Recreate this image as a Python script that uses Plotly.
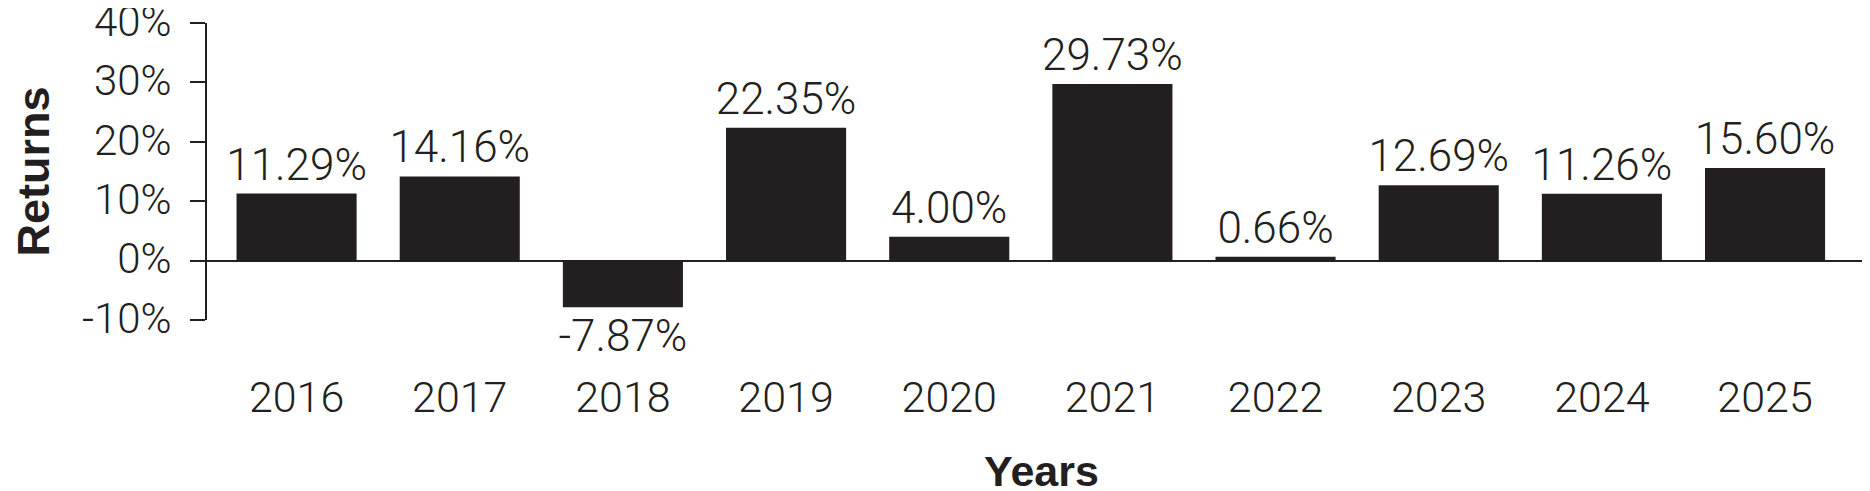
import plotly.graph_objects as go

# annual returns
years = ["2016", "2017", "2018", "2019", "2020", "2021", "2022", "2023", "2024", "2025"]
returns = [11.29, 14.16, -7.87, 22.35, 4.00, 29.73, 0.66, 12.69, 11.26, 15.60]
y_ticks = [-10, 0, 10, 20, 30, 40]
y_tick_text = ["-10%", "0%", "10%", "20%", "30%", "40%"]

ink = "#231f20"
light = "Roboto"
bold = "Liberation Sans"

fig = go.Figure(go.Bar(
    x=years,
    y=returns,
    width=0.736,
    marker=dict(color=ink, line=dict(width=0)),
    text=[f"{v:.2f}%" for v in returns],
    textposition="outside",
    constraintext="none",
    textfont=dict(family=light, size=44, color=ink, weight=300),
    cliponaxis=False,
))

fig.update_layout(
    width=1870,
    height=491,
    margin=dict(l=199, r=2, t=15, b=179),
    plot_bgcolor="white",
    paper_bgcolor="white",
    showlegend=False,
    font=dict(family=light, color=ink),
)

fig.update_yaxes(
    range=[-10, 40],
    tickvals=y_ticks,
    ticktext=y_tick_text,
    tickfont=dict(family=light, size=42, color=ink, weight=300),
    ticklabeloverflow="allow",
    ticklabelshift=-2,
    automargin=False,
    ticks="outside",
    ticklen=15,
    tickwidth=2,
    tickcolor=ink,
    ticklabelstandoff=10,
    showline=True,
    linecolor=ink,
    linewidth=2,
    showgrid=False,
    zeroline=True,
    zerolinecolor=ink,
    zerolinewidth=2,
    title=dict(text="<b>Returns</b>", font=dict(family=bold, size=45, color=ink), standoff=34),
)

fig.update_xaxes(
    type="category",
    range=[-0.549, 9.68],
    automargin=False,
    showline=False,
    showgrid=False,
    ticks="",
    tickfont=dict(family=light, size=43, color=ink, weight=300),
    ticklabelstandoff=48,
    title=dict(text="<b>Years</b>", font=dict(family=bold, size=43, color=ink), standoff=34),
)

# small closing tick at the right end of the zero line
fig.add_shape(type="line", xref="paper", yref="y", x0=1, x1=1, y0=0, y1=2.8,
              line=dict(color=ink, width=2))

fig.write_html("out.html")
